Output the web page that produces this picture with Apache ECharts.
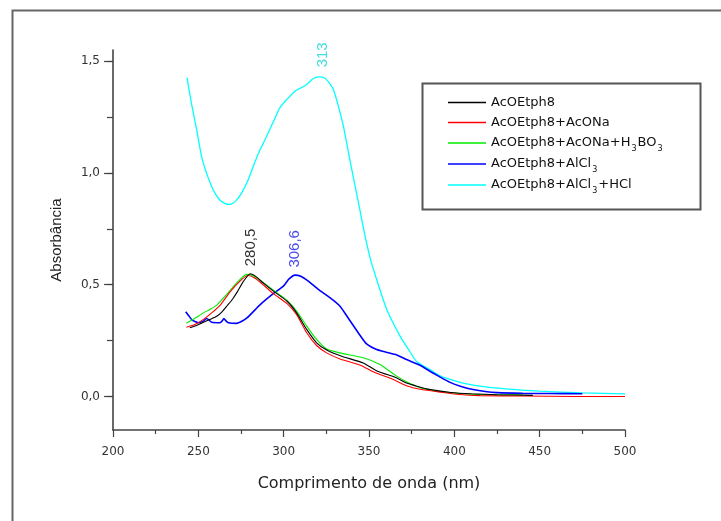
<!DOCTYPE html>
<html>
<head>
<meta charset="utf-8">
<script src="https://cdn.jsdelivr.net/npm/echarts@6/dist/echarts.min.js"></script>
<style>html,body{margin:0;padding:0;background:#fff}#c{width:721px;height:521px}</style>
</head>
<body>
<div id="c"></div>
<script>
// ---- data ----
const seriesNames = ['AcOEtph8', 'AcOEtph8+AcONa', 'AcOEtph8+AcONa+H3BO3', 'AcOEtph8+AlCl3', 'AcOEtph8+AlCl3+HCl'];
const seriesColors = ['#000000', '#ff0000', '#00ee00', '#0000ff', '#00ffff'];

const wlBlack = [245, 249, 253, 257, 261, 264, 267, 270, 273, 276.5, 280.5, 284, 288, 294, 302, 307.6, 313.5, 319.3, 325.2, 334, 346.6, 355, 366, 372, 378, 386, 398, 410, 425, 446];
const absBlack = [0.307, 0.317, 0.332, 0.345, 0.36, 0.38, 0.407, 0.435, 0.47, 0.516, 0.549, 0.535, 0.508, 0.471, 0.426, 0.374, 0.30, 0.24, 0.208, 0.18, 0.15, 0.113, 0.084, 0.06, 0.046, 0.031, 0.018, 0.012, 0.008, 0.005];

const wlRed = [243, 248, 253, 258, 263, 268.6, 274.4, 279, 283, 288, 294, 302, 307.6, 313.5, 319.3, 325.2, 333, 345, 353, 363, 372, 380, 392, 403, 415, 440, 470, 500];
const absRed = [0.31, 0.322, 0.345, 0.375, 0.41, 0.468, 0.516, 0.541, 0.53, 0.5, 0.46, 0.415, 0.366, 0.285, 0.228, 0.195, 0.168, 0.14, 0.108, 0.08, 0.048, 0.032, 0.019, 0.009, 0.004, 0.002, 0.0, 0.0];

const wlGreen = [243, 248, 253, 257, 261, 266.6, 272.5, 278.3, 282, 288, 294, 302, 307.6, 313.5, 319.3, 325.2, 333, 346.6, 356.4, 366, 374, 382, 391.6, 405, 420, 440];
const absGreen = [0.328, 0.35, 0.374, 0.39, 0.41, 0.456, 0.508, 0.546, 0.54, 0.51, 0.475, 0.43, 0.382, 0.315, 0.255, 0.212, 0.195, 0.173, 0.143, 0.092, 0.058, 0.035, 0.022, 0.012, 0.008, 0.008];

const wlBlue = [242.6, 244.5, 246.1, 248, 250, 252.9, 254.9, 256.5, 257.8, 262.7, 264, 265, 266.2, 267.6, 272.5, 278.3, 286.1, 293.9, 300, 303, 306.6, 310, 314.4, 320.3, 327.1, 333, 337.9, 343.7, 348.6, 354.5, 360, 366.2, 372, 379.9, 385.7, 391, 397.5, 404, 411, 418, 425, 440, 455, 475];
const absBlue = [0.379, 0.36, 0.344, 0.335, 0.33, 0.337, 0.349, 0.34, 0.332, 0.33, 0.338, 0.349, 0.338, 0.33, 0.327, 0.35, 0.41, 0.46, 0.495, 0.525, 0.543, 0.538, 0.516, 0.479, 0.442, 0.404, 0.35, 0.285, 0.235, 0.21, 0.198, 0.186, 0.165, 0.14, 0.113, 0.09, 0.063, 0.045, 0.031, 0.022, 0.017, 0.014, 0.013, 0.012];

const wlCyan = [243.4, 246, 249, 252, 255.8, 259, 262.3, 265.5, 268.6, 272, 275.4, 279, 282.2, 286, 290.1, 294, 297.8, 302, 306.6, 310, 313.5, 317, 320.3, 324, 327, 329.1, 332, 335, 337.5, 339.9, 344, 347.7, 351, 354.5, 360.4, 368.2, 374, 378, 385.7, 391, 397.5, 405, 415, 430, 450, 475, 500];
const absCyan = [1.426, 1.31, 1.195, 1.07, 0.978, 0.92, 0.881, 0.864, 0.859, 0.875, 0.911, 0.965, 1.03, 1.1, 1.165, 1.23, 1.292, 1.33, 1.366, 1.38, 1.396, 1.42, 1.43, 1.425, 1.40, 1.374, 1.3, 1.209, 1.11, 1.016, 0.86, 0.717, 0.61, 0.523, 0.389, 0.27, 0.2, 0.155, 0.12, 0.095, 0.076, 0.06, 0.046, 0.034, 0.024, 0.016, 0.012];

const wlAll = [wlBlack, wlRed, wlGreen, wlBlue, wlCyan];
const absAll = [absBlack, absRed, absGreen, absBlue, absCyan];

// peak annotations: series index, wavelength of the labelled point, text
const peakSeries = [0, 3, 4];
const peakAt = [280.5, 306.6, 320.3];
const peakText = ['280,5', '306,6', '313'];
const peakColor = ['#333333', '#4a4ae6', '#40dede'];

const xTicks = [200, 250, 300, 350, 400, 450, 500];
const yTickValues = [0, 0.5, 1.0, 1.5];
const yMinorTicks = [0, 0.25, 0.5, 0.75, 1.0, 1.25, 1.5];

// ---- chart ----
const chart = echarts.init(document.getElementById('c'), null, {renderer: 'canvas'});
const axisColor = '#444';
const series = seriesNames.map((name, k) => {
  const data = wlAll[k].map((x, i) => [x, absAll[k][i]]);
  const s = {
    name, type: 'line', data, symbol: 'none', smooth: 0.2,
    lineStyle: {color: seriesColors[k], width: k === 3 ? 1.6 : (k === 4 ? 1.3 : 1.1)},
    itemStyle: {color: seriesColors[k]},
    z: 10 - k
  };
  const p = peakSeries.indexOf(k);
  if (p >= 0) {
    const idx = wlAll[k].indexOf(peakAt[p]);
    s.markPoint = {
      symbol: 'circle', symbolSize: 1, itemStyle: {color: 'rgba(0,0,0,0)'},
      silent: true, animation: false,
      data: [{coord: [wlAll[k][idx], absAll[k][idx]]}],
      label: {
        show: true, position: 'top', distance: 7, rotate: 90,
        align: 'left', verticalAlign: 'middle',
        offset: k === 4 ? [2, 5] : [0, 0],
        formatter: peakText[p], color: peakColor[p],
        fontFamily: 'Liberation Sans', fontSize: 15
      }
    };
  }
  return s;
});

function legendRich(name) {
  const parts = name.split('3');
  let s = '';
  parts.forEach((p, i) => {
    if (p) s += '{n|' + p + '}';
    if (i < parts.length - 1) s += '{s|3}';
  });
  return s;
}

chart.setOption({
  animation: false,
  backgroundColor: '#ffffff',
  grid: {left: 113, top: 50, width: 512, height: 380, containLabel: false},
  xAxis: {
    type: 'value', min: 200, max: 500, interval: 50,
    name: 'Comprimento de onda (nm)', nameLocation: 'middle', nameGap: 46,
    nameTextStyle: {fontFamily: 'DejaVu Sans', fontSize: 16, color: '#222'},
    axisLine: {show: true, onZero: false, lineStyle: {color: axisColor, width: 1.6}},
    axisTick: {show: true, inside: false, length: 7, lineStyle: {color: axisColor, width: 1.2}},
    minorTick: {show: true, splitNumber: 2, length: 4, lineStyle: {color: axisColor, width: 1.2}},
    axisLabel: {margin: 16, fontFamily: 'DejaVu Sans', fontSize: 12, color: '#333',
      formatter: v => xTicks.includes(v) ? String(v) : ''},
    splitLine: {show: false}, minorSplitLine: {show: false}
  },
  yAxis: [{
    type: 'value', min: -0.15, max: 1.55, position: 'left',
    name: 'Absorbância', nameLocation: 'middle', nameGap: 49,
    nameTextStyle: {fontFamily: 'Liberation Sans', fontSize: 15, color: '#222'},
    axisLine: {show: true, onZero: false, lineStyle: {color: axisColor, width: 1.6}},
    axisTick: {show: true, customValues: yMinorTicks, length: 6, lineStyle: {color: axisColor, width: 1.2}},
    axisLabel: {customValues: yTickValues, margin: 13, fontFamily: 'DejaVu Sans', fontSize: 12, color: '#333',
      formatter: v => v.toFixed(1).replace('.', ',')},
    splitLine: {show: false}
  }, {
    type: 'value', min: -0.15, max: 1.55, position: 'left', offset: 0,
    axisLine: {show: false},
    axisTick: {show: true, customValues: yTickValues, length: 9, lineStyle: {color: axisColor, width: 1.2}},
    axisLabel: {show: false},
    splitLine: {show: false}
  }],
  legend: {
    orient: 'vertical', left: 448, top: 93, itemWidth: 38, itemHeight: 1.5, itemGap: 1,
    padding: 0, selectedMode: false,
    icon: 'rect',
    data: seriesNames.map((n, k) => ({name: n, icon: 'rect', itemStyle: {color: seriesColors[k]}})),
    formatter: legendRich,
    textStyle: {
      color: '#111', lineHeight: 19, height: 19,
      rich: {
        n: {fontFamily: 'DejaVu Sans', fontSize: 13, color: '#111', lineHeight: 19},
        s: {fontFamily: 'DejaVu Sans', fontSize: 8, color: '#111', lineHeight: 8, padding: [12, 1, 0, 1]}
      }
    }
  },
  graphic: [
    {type: 'rect', left: 10, top: 8, shape: {x: 0, y: 0, width: 760, height: 560}, style: {fill: 'none', stroke: '#666', lineWidth: 2}, silent: true, z: 0},
    {type: 'rect', left: 420, top: 81, shape: {x: 0, y: 0, width: 278, height: 126}, style: {fill: 'none', stroke: '#555', lineWidth: 2}, silent: true, z: 0}
  ],
  series
});
</script>
</body>
</html>
